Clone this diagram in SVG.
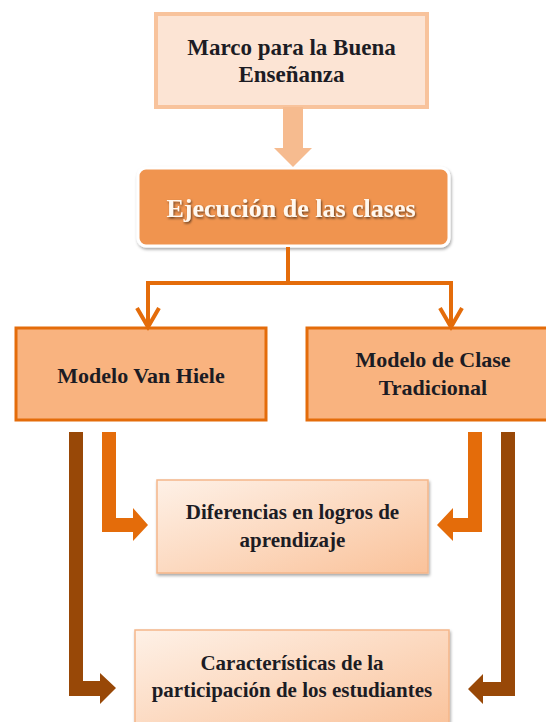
<svg xmlns="http://www.w3.org/2000/svg" width="546" height="722" viewBox="0 0 546 722">
<defs>
<style>
.t{font-family:'Liberation Serif','Tinos','DejaVu Serif',serif;font-weight:700;text-anchor:middle;fill:#1c1c24}
.w{fill:#fff8f0}
.orl{fill:none;stroke:#e46c0a;stroke-width:4}
.or{fill:#e46c0a}
.br{fill:#984807}
</style>
<linearGradient id="g" x1="0" y1="0" x2="1" y2="1">
<stop offset="0" stop-color="#fef1e7"/>
<stop offset="1" stop-color="#fac29a"/>
</linearGradient>
<filter id="sh" x="-10%" y="-10%" width="120%" height="130%">
<feDropShadow dx="1" dy="2" stdDeviation="1.5" flood-color="#000" flood-opacity="0.35"/>
</filter>
<filter id="ts" x="-5%" y="-20%" width="110%" height="150%">
<feDropShadow dx="1" dy="1.5" stdDeviation="0.8" flood-color="#000" flood-opacity="0.6"/>
</filter>
</defs>
<rect width="546" height="722" fill="#fff"/>

<g id="marco">
<rect x="156" y="14" width="271" height="93" fill="#fce4d4" stroke="#f8c39c" stroke-width="4"/>
<text class="t" x="291.5" y="55" font-size="23">Marco para la Buena</text>
<text class="t" x="291.5" y="82" font-size="23">Enseñanza</text>
</g>

<g id="ejecucion">
<rect x="138" y="168" width="311" height="78" rx="8" fill="#f0944f" stroke="#ffffff" stroke-width="3" filter="url(#sh)"/>
<text class="t w" x="291" y="217" font-size="26" filter="url(#ts)">Ejecución de las clases</text>
</g>

<g id="vanhiele">
<rect x="16" y="328" width="250" height="92" fill="#f9b37f" stroke="#e46c0a" stroke-width="3"/>
<text class="t" x="141" y="383" font-size="22">Modelo Van Hiele</text>
</g>

<g id="tradicional">
<rect x="307" y="328" width="250" height="92" fill="#f9b37f" stroke="#e46c0a" stroke-width="3"/>
<text class="t" x="433" y="367" font-size="22">Modelo de Clase</text>
<text class="t" x="433" y="395" font-size="22">Tradicional</text>
</g>

<g id="diferencias">
<rect x="157" y="480" width="271" height="93" fill="url(#g)" stroke="#f5b68a" stroke-width="1.5" filter="url(#sh)"/>
<text class="t" x="292.5" y="519" font-size="21">Diferencias en logros de</text>
<text class="t" x="292.5" y="547" font-size="21">aprendizaje</text>
</g>

<g id="caracteristicas">
<rect x="135" y="630" width="314" height="100" fill="url(#g)" stroke="#f5b68a" stroke-width="1.5" filter="url(#sh)"/>
<text class="t" x="292" y="670" font-size="21">Características de la</text>
<text class="t" x="292" y="697" font-size="21">participación de los estudiantes</text>
</g>

<g id="connectors">
<path d="M283 107 H303 V148 H312 L293 167 L274 148 H283 Z" fill="#f6bb8f"/>
<path class="orl" d="M288 247 V283 M148 283 H451 M148 281 V327 M451 281 V327"/>
<path class="orl" d="M137 308 L148 327 L159 308 M440 308 L451 327 L462 308"/>
<path class="or" d="M102 432 H116 V518 H133 V508 L148 525 L133 541 V532 H102 Z"/>
<path class="or" d="M468 432 H482 V532 H453 V541 L437 525 L453 508 V518 H468 Z"/>
<path class="br" d="M69 432 H83 V681 H100 V673 L116 688 L100 704 V696 H69 Z"/>
<path class="br" d="M501 432 H515 V696 H483 V704 L468 689 L483 674 V682 H501 Z"/>
</g>
</svg>
